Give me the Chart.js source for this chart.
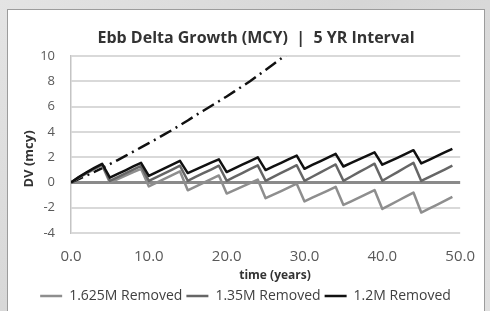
<!DOCTYPE html>
<html>
<head>
<meta charset="utf-8">
<script src="https://cdn.jsdelivr.net/npm/chart.js@4.4.1/dist/chart.umd.min.js"></script>
<style>
  html, body { margin: 0; padding: 0; }
  body {
    width: 490px; height: 311px; overflow: hidden; position: relative;
    background: linear-gradient(135deg, #e4e4e4 0%, #d6d6d6 45%, #e0e0e0 100%);
  }
  .panel {
    position: absolute; left: 7px; top: 9px; width: 478px; height: 310px;
    background: #fff; border: 1px solid #9c9c9c; box-sizing: border-box;
  }
  canvas { position: absolute; left: 0; top: 0; }
</style>
</head>
<body>
<div class="panel"></div>
<canvas id="chart" width="490" height="311"></canvas>
<script>
// years for the three dredging scenarios (one point per year)
const years = [];
for (let t = 0; t <= 49; t++) years.push(t);

const removed1625 = [
  0, 0.38, 0.72, 1.05, 1.35,
  -0.02, 0.26, 0.53, 0.81, 1.08,
  -0.32, -0.02, 0.28, 0.58, 0.88,
  -0.62, -0.33, -0.04, 0.26, 0.55,
  -0.88, -0.6, -0.33, -0.05, 0.22,
  -1.25, -0.96, -0.68, -0.39, -0.1,
  -1.5, -1.21, -0.93, -0.64, -0.35,
  -1.78, -1.49, -1.2, -0.9, -0.6,
  -2.1, -1.78, -1.45, -1.13, -0.8,
  -2.38, -2.07, -1.77, -1.46, -1.15
];

const removed135 = [
  0, 0.4, 0.76, 1.1, 1.42,
  0.12, 0.42, 0.71, 1.01, 1.3,
  0.12, 0.42, 0.72, 1.02, 1.32,
  0.13, 0.43, 0.73, 1.02, 1.32,
  0.13, 0.44, 0.74, 1.05, 1.35,
  0.13, 0.44, 0.75, 1.05, 1.36,
  0.13, 0.45, 0.77, 1.1, 1.42,
  0.13, 0.47, 0.81, 1.14, 1.48,
  0.13, 0.49, 0.84, 1.2, 1.55,
  0.12, 0.42, 0.72, 1.02, 1.32
];

const removed12 = [
  0, 0.42, 0.8, 1.15, 1.47,
  0.38, 0.67, 0.96, 1.26, 1.55,
  0.52, 0.82, 1.12, 1.41, 1.71,
  0.74, 1.01, 1.29, 1.56, 1.83,
  0.82, 1.11, 1.4, 1.69, 1.98,
  0.98, 1.27, 1.55, 1.84, 2.12,
  1.08, 1.38, 1.67, 1.97, 2.26,
  1.26, 1.54, 1.82, 2.1, 2.38,
  1.4, 1.69, 1.97, 2.26, 2.55,
  1.5, 1.79, 2.08, 2.37, 2.65
];

// no-dredging growth (dash-dot), runs off the top of the plot
const noDredgeYears = [];
for (let t = 0; t <= 30; t++) noDredgeYears.push(t);
const noDredge = [
  0, 0.27, 0.55, 0.84, 1.14, 1.45, 1.77, 2.1, 2.43, 2.77,
  3.11, 3.45, 3.8, 4.15, 4.52, 4.9, 5.3, 5.67, 6.05, 6.42,
  6.8, 7.2, 7.6, 8.0, 8.45, 8.9, 9.35, 9.8, 10.25, 10.7, 11.15
];

const xTicks = [0, 10, 20, 30, 40, 50];
const yTicks = [-4, -2, 0, 2, 4, 6, 8, 10];

const FONT = '"Open Sans", "Liberation Sans", sans-serif';

function points(xs, ys) {
  return xs.map((x, i) => ({ x: x, y: ys[i] }));
}

function lineSet(label, xs, ys, color, order) {
  return {
    label: label,
    data: points(xs, ys),
    borderColor: color,
    backgroundColor: color,
    borderWidth: 2.5,
    pointRadius: 0,
    tension: 0,
    borderJoinStyle: 'round',
    order: order
  };
}

// chart title and axis titles drawn by hand, the original has them a bit off centre
const titlesPlugin = {
  id: 'titles',
  afterDraw(chart) {
    const ctx = chart.ctx;
    ctx.save();
    ctx.fillStyle = '#333333';
    ctx.textAlign = 'center';

    ctx.font = 'bold 16px ' + FONT;
    ctx.textBaseline = 'alphabetic';
    ctx.fillText('Ebb Delta Growth (MCY)  |  5 YR Interval', 256, 43);

    ctx.font = 'bold 12px ' + FONT;
    ctx.textBaseline = 'middle';
    ctx.fillText('time (years)', 275, 276);

    ctx.translate(29, 159);
    ctx.rotate(-Math.PI / 2);
    ctx.font = 'bold 13px ' + FONT;
    ctx.fillText('DV (mcy)', 0, 0);
    ctx.restore();
  }
};

const dash = lineSet('No Removal', noDredgeYears, noDredge, '#111111', 3);
dash.borderDash = [13, 5, 2, 5];

new Chart(document.getElementById('chart'), {
  type: 'line',
  data: {
    datasets: [
      lineSet('1.625M Removed', years, removed1625, '#8e8e8e', 2),
      lineSet('1.35M Removed', years, removed135, '#666666', 1),
      lineSet('1.2M Removed', years, removed12, '#111111', 0),
      dash
    ]
  },
  options: {
    responsive: false,
    animation: false,
    layout: { padding: { left: 26, right: 25, top: 56, bottom: -2 } },
    plugins: {
      title: { display: false },
      legend: {
        position: 'bottom',
        labels: {
          font: { family: FONT, size: 14 },
          color: '#404040',
          usePointStyle: true,
          pointStyle: 'line',
          pointStyleWidth: 22,
          padding: 4,
          filter: (item) => item.datasetIndex < 3,
          sort: (a, b) => a.datasetIndex - b.datasetIndex
        }
      },
      tooltip: { enabled: false }
    },
    scales: {
      x: {
        type: 'linear',
        min: 0,
        max: 50,
        afterBuildTicks: (scale) => { scale.ticks = xTicks.map(v => ({ value: v })); },
        afterFit: (scale) => { scale.height = 52; },
        ticks: {
          font: { family: FONT, size: 15 },
          color: '#595959',
          padding: 15,
          maxRotation: 0,
          callback: (v) => Number(v).toFixed(1)
        },
        grid: { display: false, drawTicks: false },
        border: { display: false }
      },
      y: {
        min: -4,
        max: 10,
        afterBuildTicks: (scale) => { scale.ticks = yTicks.map(v => ({ value: v })); },
        afterFit: (scale) => { scale.width = 45; },
        ticks: {
          font: { family: FONT, size: 13 },
          color: '#595959',
          padding: 16
        },
        grid: {
          drawTicks: false,
          color: (c) => (c.tick && c.tick.value === 0 ? '#8a8a8a' : '#d9d9d9'),
          lineWidth: (c) => (c.tick && c.tick.value === 0 ? 3 : 2)
        },
        border: { color: '#c4c4c4', width: 1.5 }
      }
    }
  },
  plugins: [titlesPlugin]
});
</script>
</body>
</html>
